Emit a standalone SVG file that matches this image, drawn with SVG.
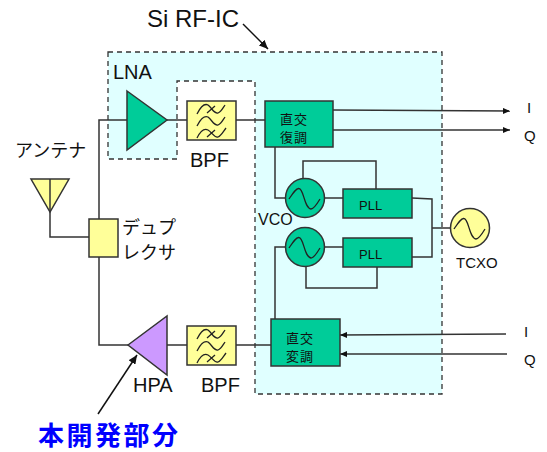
<svg xmlns="http://www.w3.org/2000/svg" width="547" height="452" viewBox="0 0 547 452">
<defs>
<style>
text{font-family:"Liberation Sans","Noto Sans CJK JP",sans-serif;fill:#111}
.t{font-size:20px}.s{font-size:13px}.q{font-size:15px}.j{font-size:18px;font-family:"Noto Sans CJK JP",sans-serif}.b{font-size:13px;letter-spacing:1px;font-family:"Noto Sans CJK JP",sans-serif}
.g{fill:#00cc99;stroke:#333;stroke-width:1.5}
.y{fill:#ffff99;stroke:#333;stroke-width:1.5}
.w{fill:none;stroke:#222;stroke-width:1.3}
.c{fill:none;stroke:#333;stroke-width:1.5}
</style>
<marker id="a" markerWidth="8" markerHeight="6" refX="7" refY="3" orient="auto" markerUnits="userSpaceOnUse"><path d="M0,0L7,3L0,6z" fill="#111"/></marker>
<marker id="b" markerWidth="10" markerHeight="8" refX="9" refY="4" orient="auto" markerUnits="userSpaceOnUse"><path d="M0,0L9,4L0,8z" fill="#111"/></marker>
<path id="wave" class="w" d="M-16,1C-12,-5 -9,-10 -6,-9.5C-1,-9 -1,10 6,11C9,11 12,6 15,1"/>
<g id="filt"><path class="w" d="M-14,-6C-11,-12 -7,-17 -3,-15C1,-12 3,-6 7,-7C10,-8 12,-12 14,-15M-4,-7L4,-14"/><path class="w" d="M-14,6C-11,0 -7,-5 -3,-3C1,0 3,6 7,5C10,4 12,0 14,-3"/><path class="w" d="M-14,18C-11,12 -7,8 -3,10C1,12 3,18 7,17C10,16 12,12 15,8M-4,17L4,10"/></g>
</defs>
<path id="ic-region" d="M108,52H442V394H255V81H177V159H108Z" fill="#e0ffff" stroke="#333" stroke-width="1.3" stroke-dasharray="5 4"/>
<g id="connectors">
<path class="c" d="M99,219V120H265M89,237H50V179M99,257V345H128M167,345H271"/>
<path class="c" d="M275,147V198H286M324,198H343M303,178V161H376V189M412,198L432,199V257H412M432,228H451M286,247H275V319M324,247H343M306,266V288H377V267"/>
<path class="c" d="M333,110L510,111" marker-end="url(#a)"/>
<path class="c" d="M333,130H510" marker-end="url(#a)"/>
<path class="c" d="M506,334L340,335" marker-end="url(#a)"/>
<path class="c" d="M507,354H340" marker-end="url(#a)"/>
<path class="c" style="stroke:#111" d="M243,24L268,49" marker-end="url(#b)"/>
<path class="c" style="stroke:#111" d="M98,414L137,355" marker-end="url(#b)"/>
</g>
<g id="antenna"><path class="y" d="M31,179H69L50,212Z"/><path class="c" d="M50,179V212"/><text class="j" x="15" y="157">アンテナ</text></g>
<g id="duplexer"><rect class="y" x="89" y="219" width="29" height="38"/><text class="j" x="122" y="234">デュプ</text><text class="j" x="122" y="259">レクサ</text></g>
<g id="lna"><path class="g" d="M127,91L167,120L127,150Z"/><text class="t" x="113" y="79">LNA</text></g>
<g id="bpf1"><rect class="y" x="187" y="101" width="49" height="39"/><use href="#filt" x="211" y="120"/><text class="t" x="190" y="167">BPF</text></g>
<g id="hpa"><path d="M128,345L167,316V375Z" fill="#cc99ff" stroke="#333" stroke-width="1.5"/><text class="t" x="133" y="392">HPA</text></g>
<g id="bpf2"><rect class="y" x="187" y="326" width="49" height="39"/><use href="#filt" x="211" y="345"/><text class="t" x="201" y="392">BPF</text></g>
<g id="demod"><rect class="g" x="265" y="101" width="68" height="46"/><text class="b" x="280" y="124">直交</text><text class="b" x="280" y="142">復調</text></g>
<g id="mod"><rect class="g" x="271" y="319" width="69" height="47"/><text class="b" x="286" y="343">直交</text><text class="b" x="286" y="361">変調</text></g>
<g id="vco1"><circle class="g" cx="305" cy="198" r="19.5"/><use href="#wave" x="305" y="198"/></g>
<g id="vco2"><circle class="g" cx="305" cy="247" r="19.5"/><use href="#wave" x="305" y="247"/></g>
<text id="vco-label" style="font-size:16px" x="258" y="225">VCO</text>
<g id="pll1"><rect class="g" x="343" y="189" width="69" height="29"/><text class="s" x="359" y="210">PLL</text></g>
<g id="pll2"><rect class="g" x="343" y="238" width="69" height="29"/><text class="s" x="359" y="259">PLL</text></g>
<g id="tcxo"><circle class="y" cx="470" cy="228" r="19.5"/><use href="#wave" x="470" y="228"/><text class="q" x="456" y="268">TCXO</text></g>
<text id="i-out" class="q" x="527" y="113">I</text>
<text id="q-out" class="q" x="524" y="141">Q</text>
<text id="i-in" class="q" x="524" y="337">I</text>
<text id="q-in" class="q" x="524" y="365">Q</text>
<text id="ic-label" style="font-size:24px" x="147" y="27">Si RF-IC</text>
<text id="dev-label" x="38" y="445" style="font-size:26px;letter-spacing:2.5px;font-weight:700;fill:#0000ff;font-family:'Noto Sans CJK JP',sans-serif">本開発部分</text>
</svg>
